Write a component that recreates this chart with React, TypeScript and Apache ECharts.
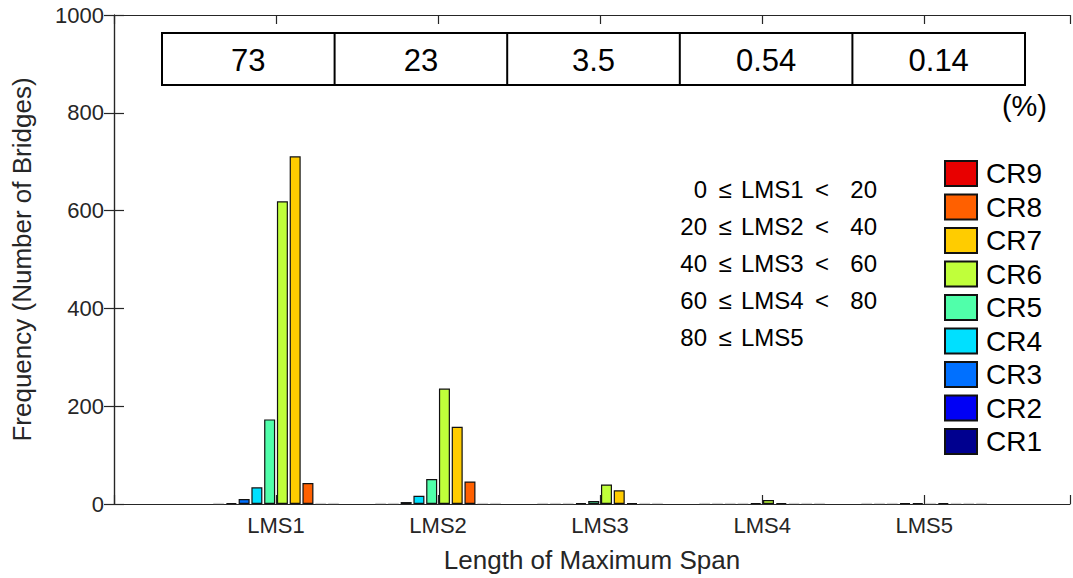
import React, { useEffect, useRef } from "react";
import * as echarts from "echarts";

// ---- data ----
const categories = ["LMS1", "LMS2", "LMS3", "LMS4", "LMS5"];
const seriesNames = ["CR1", "CR2", "CR3", "CR4", "CR5", "CR6", "CR7", "CR8", "CR9"];
const CR1 = [0, 0, 0, 0, 0];
const CR2 = [2, 0, 0, 0, 0];
const CR3 = [10, 4, 0, 0, 0];
const CR4 = [34, 17, 1, 0, 1];
const CR5 = [173, 51, 6, 2, 1];
const CR6 = [619, 236, 40, 8, 0];
const CR7 = [711, 158, 28, 2, 1];
const CR8 = [43, 46, 1, 0, 0];
const CR9 = [0, 0, 0, 0, 0];
const EXTRA = [0, 0, 0, 0, 0];
const percentages = ["73", "23", "3.5", "0.54", "0.14"];
const yTickValues = [0, 200, 400, 600, 800, 1000];
const rangeLow = ["0", "20", "40", "60", "80"];
const rangeHigh = ["20", "40", "60", "80", ""];

const colors = ["#00008f", "#0000f5", "#0070ff", "#00e0ff", "#50ffaa", "#c0ff3a", "#ffcc00", "#ff6000", "#e80000"];

const FONT = "'Liberation Sans', Arial, Helvetica, sans-serif";
const AXIS_COLOR = "#262626";

export default function App() {
  const ref = useRef<HTMLDivElement>(null);

  useEffect(() => {
    if (!ref.current) return;
    const chart = echarts.init(ref.current, null, { renderer: "svg" });

    const allValues = [CR1, CR2, CR3, CR4, CR5, CR6, CR7, CR8, CR9, EXTRA];
    const names = [...seriesNames, "extra"];
    const series: any[] = allValues.map((vals, i) => ({
      type: "bar",
      name: names[i],
      barWidth: 11,
      barGap: "16%",
      barMinHeight: 1,
      itemStyle: { color: colors[i] || "#cccccc", borderColor: "#111111", borderWidth: 1.2 },
      data: vals.map((v, k) => {
        const item: any = { value: [k + 1, v] };
        if (v === 0) item.itemStyle = { color: "#c8c8c8", borderColor: "#c8c8c8", borderWidth: 0.8 };
        return item;
      }),
    }));

    const tableLeft = 162, tableTop = 33, tableW = 863, tableH = 52;
    const cellW = tableW / percentages.length;
    const graphics: any[] = [];
    graphics.push({
      type: "rect",
      shape: { x: tableLeft, y: tableTop, width: tableW, height: tableH },
      style: { fill: "#fff", stroke: "#000", lineWidth: 2 },
      z: 10,
    });
    percentages.forEach((p, i) => {
      if (i > 0) {
        graphics.push({
          type: "line",
          shape: { x1: tableLeft + cellW * i, y1: tableTop, x2: tableLeft + cellW * i, y2: tableTop + tableH },
          style: { stroke: "#000", lineWidth: 2 },
          z: 11,
        });
      }
      graphics.push({
        type: "text",
        x: tableLeft + cellW * (i + 0.5),
        y: tableTop + tableH / 2 + 1,
        style: { text: p, fontSize: 31, fontFamily: FONT, fill: "#000", align: "center", verticalAlign: "middle" },
        z: 12,
      });
    });
    graphics.push({
      type: "text",
      x: 1047,
      y: 106,
      style: { text: "(%)", fontSize: 29, fontFamily: FONT, fill: "#000", align: "right", verticalAlign: "middle" },
      z: 12,
    });
    const annFont = 24;
    rangeLow.forEach((lo, i) => {
      const y = 189 + i * 37;
      graphics.push({
        type: "text", x: 707, y,
        style: { text: lo, fontSize: annFont, fontFamily: FONT, fill: "#000", align: "right", verticalAlign: "middle" },
      });
      graphics.push({
        type: "text", x: 725, y,
        style: { text: "≤", fontSize: annFont, fontFamily: FONT, fill: "#000", align: "center", verticalAlign: "middle" },
      });
      graphics.push({
        type: "text", x: 741, y,
        style: { text: categories[i], fontSize: annFont, fontFamily: FONT, fill: "#000", align: "left", verticalAlign: "middle" },
      });
      if (rangeHigh[i]) {
        graphics.push({
          type: "text", x: 822, y,
          style: { text: "<", fontSize: annFont, fontFamily: FONT, fill: "#000", align: "center", verticalAlign: "middle" },
        });
        graphics.push({
          type: "text", x: 877, y,
          style: { text: rangeHigh[i], fontSize: annFont, fontFamily: FONT, fill: "#000", align: "right", verticalAlign: "middle" },
        });
      }
    });

    const xBase = {
      type: "value",
      min: 0,
      max: 5.9,
      interval: 1,
      axisLine: { show: true, onZero: false, lineStyle: { color: AXIS_COLOR, width: 1.2 } },
      axisTick: { show: true, inside: true, length: 9, lineStyle: { color: AXIS_COLOR, width: 1.2 } },
      splitLine: { show: false },
    };
    const yBase = {
      type: "value",
      min: 0,
      max: 1000,
      interval: 200,
      axisLine: { show: true, lineStyle: { color: AXIS_COLOR, width: 1.2 } },
      axisTick: { show: true, inside: true, length: 10, lineStyle: { color: AXIS_COLOR, width: 1.2 } },
      splitLine: { show: false },
    };

    chart.setOption({
      animation: false,
      backgroundColor: "#ffffff",
      textStyle: { fontFamily: FONT },
      grid: { left: 114, top: 15, right: 3, bottom: 73, containLabel: false },
      legend: {
        data: [...seriesNames].reverse(),
        orient: "vertical",
        left: 944,
        top: 159.5,
        padding: 0,
        icon: "rect",
        itemWidth: 32,
        itemHeight: 25,
        itemGap: 5.5,
        selectedMode: false,
        textStyle: { fontSize: 28, color: "#000", fontFamily: FONT, padding: [0, 0, 0, 4] },
      },
      xAxis: [
        {
          ...xBase,
          position: "bottom",
          name: "Length of Maximum Span",
          nameLocation: "middle",
          nameGap: 43,
          nameTextStyle: { fontSize: 26, color: AXIS_COLOR, fontFamily: FONT },
          axisLabel: {
            show: true,
            fontSize: 22,
            color: AXIS_COLOR,
            margin: 10,
            formatter: (v: number) => (v >= 1 && v <= categories.length && Number.isInteger(v) ? categories[v - 1] : ""),
          },
        },
        { ...xBase, position: "top", axisLabel: { show: false } },
      ],
      yAxis: [
        {
          ...yBase,
          position: "left",
          name: "Frequency (Number of Bridges)",
          nameLocation: "middle",
          nameGap: 79,
          nameTextStyle: { fontSize: 26, color: AXIS_COLOR, fontFamily: FONT },
          axisLabel: {
            show: true,
            fontSize: 22,
            color: AXIS_COLOR,
            margin: 10,
            formatter: (v: number) => (yTickValues.includes(v) ? String(v) : ""),
          },
        },
        { ...yBase, position: "right", axisLabel: { show: false } },
      ],
      graphic: graphics,
      series,
    });

    return () => chart.dispose();
  }, []);

  return (
    <div
      ref={ref}
      style={{ position: "fixed", left: 0, top: 0, width: 1073, height: 578, background: "#fff" }}
    />
  );
}
